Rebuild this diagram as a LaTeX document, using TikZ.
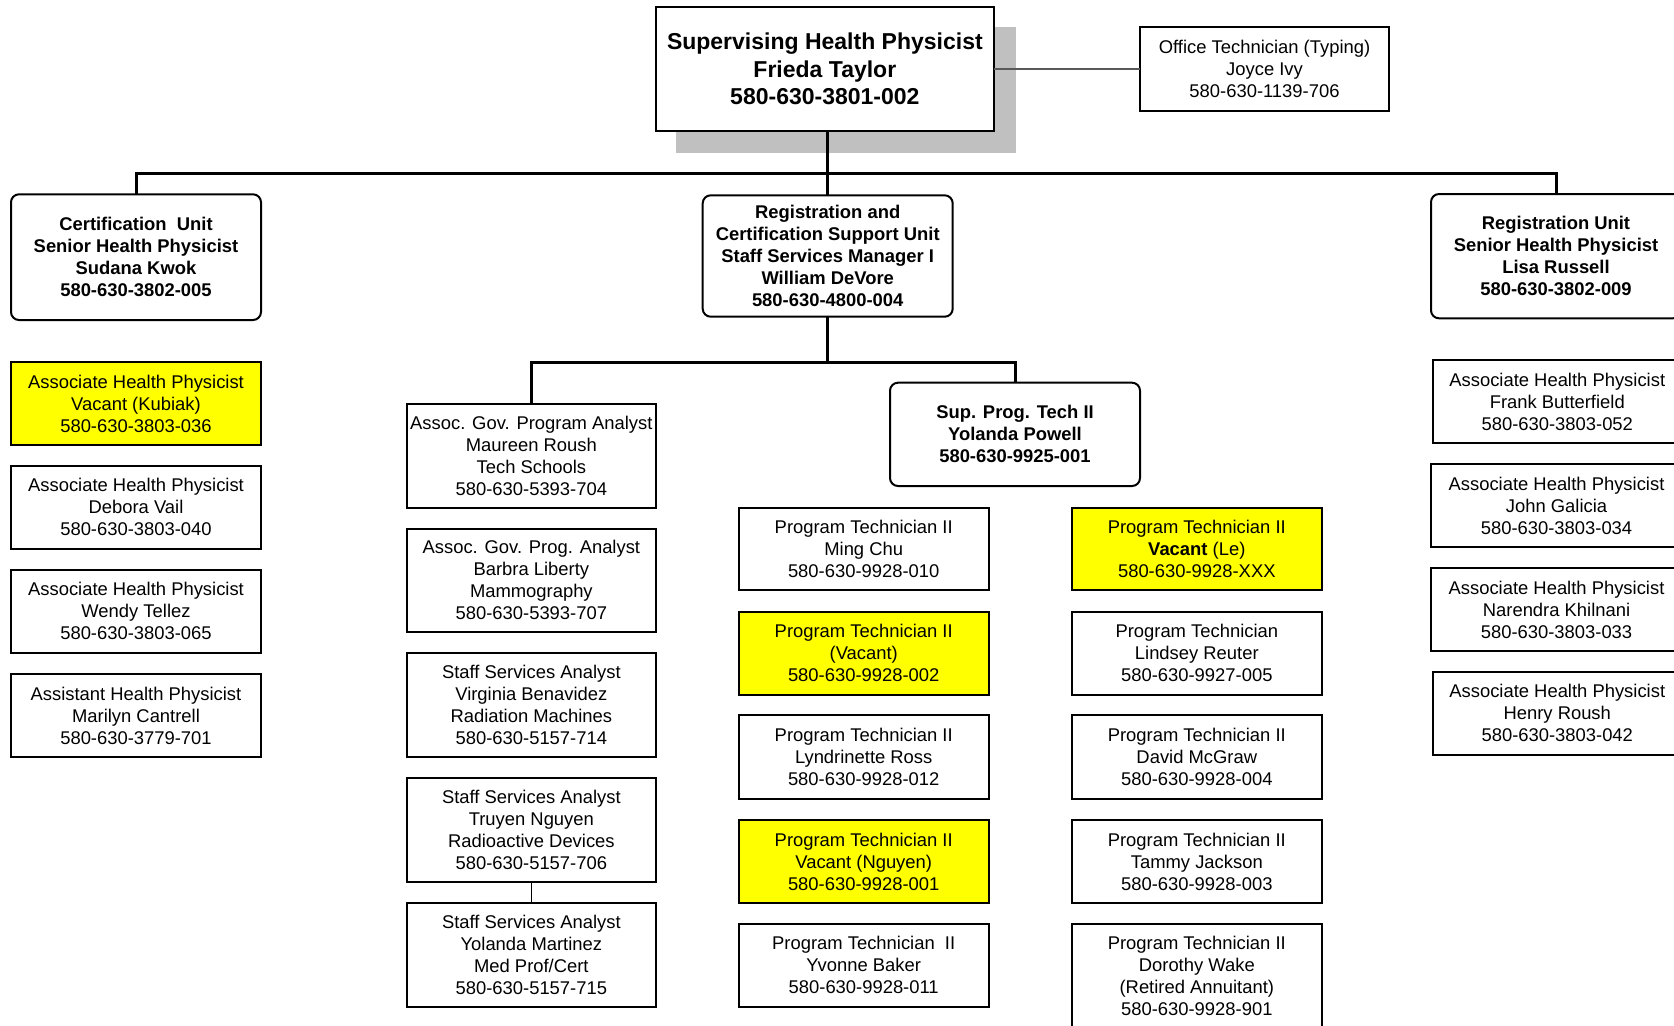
\documentclass[tikz,border=0pt]{standalone}
\usepackage{fontspec}
\setmainfont{Liberation Sans}
\definecolor{vacyellow}{HTML}{FFFF00}
\definecolor{shadowgray}{HTML}{C0C0C0}
\tikzset{
  box/.style={draw=black, line width=1pt, fill=white, inner sep=0pt, outer sep=0pt,
    align=center, font=\fontsize{9.2}{11}\selectfont},
  unitbox/.style={box, rounded corners=4pt, font=\fontsize{9.2}{11}\selectfont\bfseries},
  topbox/.style={box, font=\fontsize{11.5}{13.75}\selectfont\bfseries},
  vacant/.style={fill=vacyellow},
  conn/.style={draw=black, line width=1.5pt},
  thinconn/.style={draw=black, line width=0.6pt},
  grayconn/.style={draw=black!65, line width=0.6pt}
}
\newcommand\ob[7][]{%
  \node[box,#1,minimum width={(#5-#3)*0.5pt},minimum height={(#6-#4)*0.5pt}]
    (#2) at ({(#3+#5)/2},{(#4+#6)/2}) {#7};}
\begin{document}
\begin{tikzpicture}[x=0.5pt,y=-0.5pt]
\useasboundingbox (0,0) rectangle (1674,1025);
\fill[white] (0,0) rectangle (1674,1025);
\clip (0,0) rectangle (1674,1025);

% top level
\fill[shadowgray] (676,26.7) rectangle (1016,152.7);
\ob[topbox]{top}{655.7}{6.7}{994}{131}{Supervising Health Physicist\\Frieda Taylor\\580-630-3801-002}
\ob{ot}{1140}{27.3}{1389}{110.7}{Office Technician (Typing)\\Joyce Ivy\\580-630-1139-706}

% unit heads
\ob[unitbox]{cu}{11}{194.3}{261}{320}{Certification\ \ Unit\\Senior Health Physicist\\Sudana Kwok\\580-630-3802-005}
\ob[unitbox]{rc}{702.7}{195.3}{952.7}{316.7}{Registration and\\Certification Support Unit\\Staff Services Manager I\\William DeVore\\580-630-4800-004}
\ob[unitbox]{ru}{1431}{194}{1681}{318.3}{Registration Unit\\Senior Health Physicist\\Lisa Russell\\580-630-3802-009}
\ob[unitbox]{sp}{890}{382.7}{1140}{486}{Sup. Prog. Tech II\\Yolanda Powell\\580-630-9925-001}

% certification unit column
\ob[vacant]{c1}{11}{362}{261}{445}{Associate Health Physicist\\Vacant (Kubiak)\\580-630-3803-036}
\ob{c2}{11}{465.7}{261}{549}{Associate Health Physicist\\Debora Vail\\580-630-3803-040}
\ob{c3}{11}{570}{261}{652.7}{Associate Health Physicist\\Wendy Tellez\\580-630-3803-065}
\ob{c4}{11}{674}{261}{757}{Assistant Health Physicist\\Marilyn Cantrell\\580-630-3779-701}

% analysts column
\ob{ma}{406.7}{403.6}{656}{508.2}{Assoc. Gov. Program Analyst\\Maureen Roush\\Tech Schools\\580-630-5393-704}
\ob{bl}{406.7}{528.5}{656}{632}{Assoc. Gov. Prog. Analyst\\Barbra Liberty\\Mammography\\580-630-5393-707}
\ob{vb}{406.7}{653.4}{656}{757}{Staff Services Analyst\\Virginia Benavidez\\Radiation Machines\\580-630-5157-714}
\ob{tr}{406.7}{778.3}{656}{882}{Staff Services Analyst\\Truyen Nguyen\\Radioactive Devices\\580-630-5157-706}
\ob{ym}{406.7}{903}{656}{1006.7}{Staff Services Analyst\\Yolanda Martinez\\Med Prof/Cert\\580-630-5157-715}

% program technicians, column 1
\ob{p1}{738.8}{508.2}{988.6}{590.4}{Program Technician II\\Ming Chu\\580-630-9928-010}
\ob[vacant]{p2}{738.8}{611.7}{988.6}{695}{Program Technician II\\(Vacant)\\580-630-9928-002}
\ob{p3}{738.8}{715.3}{988.6}{798.6}{Program Technician II\\Lyndrinette Ross\\580-630-9928-012}
\ob[vacant]{p4}{738.8}{820}{988.6}{903.2}{Program Technician II\\Vacant (Nguyen)\\580-630-9928-001}
\ob{p5}{738.8}{923.5}{988.6}{1006.7}{Program Technician\ \ II\\Yvonne Baker\\580-630-9928-011}

% program technicians, column 2
\ob[vacant]{q1}{1071.9}{508.2}{1321.7}{590.4}{Program Technician II\\\textbf{Vacant} (Le)\\580-630-9928-XXX}
\ob{q2}{1071.9}{611.7}{1321.7}{695}{Program Technician\\Lindsey Reuter\\580-630-9927-005}
\ob{q3}{1071.9}{715.3}{1321.7}{798.6}{Program Technician II\\David McGraw\\580-630-9928-004}
\ob{q4}{1071.9}{820}{1321.7}{903.2}{Program Technician II\\Tammy Jackson\\580-630-9928-003}
\ob{q5}{1071.9}{923.5}{1321.7}{1028.5}{Program Technician II\\Dorothy Wake\\(Retired Annuitant)\\580-630-9928-901}

% registration unit column
\ob{r1}{1432.5}{360}{1682}{443.3}{Associate Health Physicist\\Frank Butterfield\\580-630-3803-052}
\ob{r2}{1431}{464}{1682}{547.3}{Associate Health Physicist\\John Galicia\\580-630-3803-034}
\ob{r3}{1431}{568}{1682}{651}{Associate Health Physicist\\Narendra Khilnani\\580-630-3803-033}
\ob{r4}{1432.5}{671.5}{1682}{754.8}{Associate Health Physicist\\Henry Roush\\580-630-3803-042}

% connectors
\coordinate (bus) at (0,173);
\coordinate (bus2) at (0,362);
\draw[grayconn] (top.east |- ot.west) -- (ot.west);
\draw[conn] (rc.north |- top.south) -- (rc.north);
\draw[conn] (cu.north) -- (cu.north |- bus) -- (ru.north |- bus) -- (ru.north);
\draw[conn] (rc.south) -- (rc.south |- bus2);
\draw[conn] (ma.north) -- (ma.north |- bus2) -- (sp.north |- bus2) -- (sp.north);
\draw[thinconn] (tr.south) -- (ym.north);
\end{tikzpicture}
\end{document}
